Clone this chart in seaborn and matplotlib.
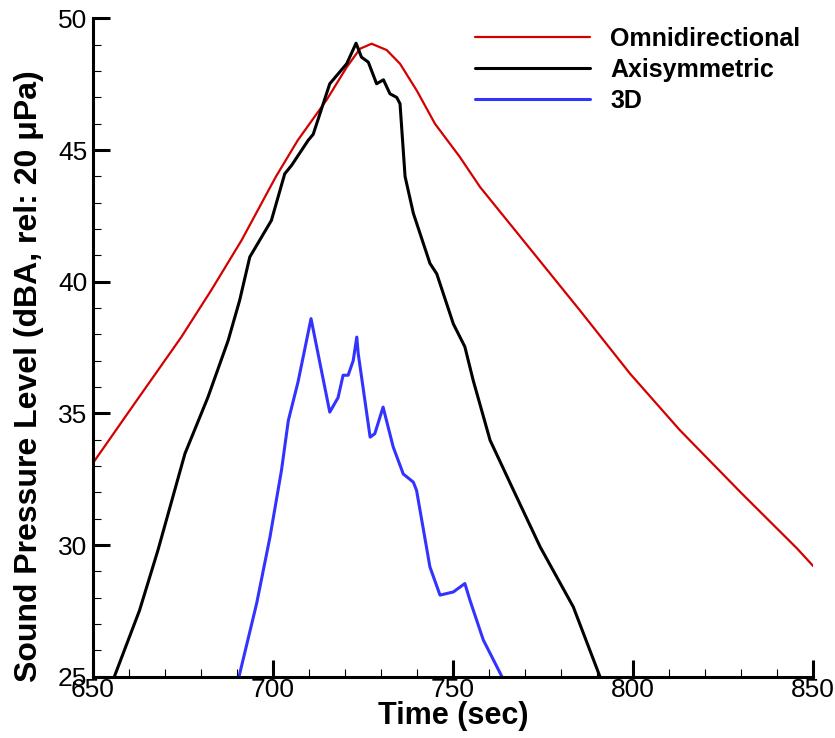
import pandas as pd
import matplotlib
matplotlib.use("Agg")
import matplotlib.pyplot as plt
import seaborn as sns
from matplotlib.ticker import MultipleLocator

# Omnidirectional
t_omni = [650, 662, 674.6, 683, 691.3, 700.8, 706.9, 714.9, 720.5, 724.2, 727.4,
          731.6, 735.3, 740, 745, 751.9, 757.5, 772.3, 785.3, 799.2, 813, 830, 845.5, 850]
spl_omni = [33.1, 35.45, 37.9, 39.7, 41.57, 43.98, 45.37, 46.9, 48.15, 48.85, 49.04,
            48.8, 48.28, 47.25, 46.0, 44.74, 43.6, 41.1, 38.9, 36.5, 34.36, 31.98, 29.87, 29.2]

# Axisymmetric
t_axi = [656, 663, 668.1, 675.6, 682, 687.6, 690.8, 693.6, 699.6, 703.3, 705.2,
         709.8, 711.2, 715.8, 720.5, 723.1, 724.6, 726.5, 728.8, 730.7, 732.5,
         734.4, 735.3, 736.7, 739, 743.6, 745.5, 750.1, 753.3, 755.6, 760.3,
         766.8, 774.2, 783.4, 790.8]
spl_axi = [25.0, 27.52, 29.8, 33.47, 35.62, 37.77, 39.3, 40.94, 42.33, 44.1, 44.42,
           45.37, 45.6, 47.52, 48.28, 49.06, 48.53, 48.34, 47.52, 47.67, 47.14,
           47.0, 46.76, 44.0, 42.6, 40.7, 40.3, 38.4, 37.53, 36.26, 33.98,
           32.08, 29.93, 27.65, 25.0]

# 3D
t_3d = [690.6, 695.5, 699.2, 702.4, 704.3, 707, 710.6, 715.8, 718.1, 719.5,
        720.9, 722.3, 723.3, 723.7, 727, 728.3, 730.6, 733.4, 736.2, 739,
        739.9, 743.6, 746.4, 750.1, 753.3, 754.7, 758.4, 763.6]
spl_3d = [25.0, 27.78, 30.3, 32.84, 34.73, 36.2, 38.6, 35.05, 35.6, 36.45,
          36.45, 37.0, 37.9, 37.27, 34.1, 34.23, 35.24, 33.73, 32.7, 32.39,
          32.07, 29.17, 28.1, 28.22, 28.54, 27.91, 26.4, 25.0]

sns.set_style("ticks")
plt.rcParams['font.family'] = ['Liberation Sans', 'DejaVu Sans']
plt.rcParams['text.color'] = 'black'
plt.rcParams['axes.labelcolor'] = 'black'
plt.rcParams['xtick.color'] = 'black'
plt.rcParams['ytick.color'] = 'black'
plt.rcParams['axes.edgecolor'] = 'black'

fig = plt.figure(figsize=(8.35, 7.38), dpi=100)
ax = fig.add_axes([0.111, 0.083, 0.863, 0.892])

sns.lineplot(x=t_omni, y=spl_omni, ax=ax, color='#d40000', linewidth=1.6,
             label='Omnidirectional', sort=False)
sns.lineplot(x=t_axi, y=spl_axi, ax=ax, color='black', linewidth=2.2,
             label='Axisymmetric', sort=False)
sns.lineplot(x=t_3d, y=spl_3d, ax=ax, color='#3333ff', linewidth=2.2,
             label='3D', sort=False)

ax.set_xlim(650, 850)
ax.set_ylim(25, 50)
ax.xaxis.set_major_locator(MultipleLocator(50))
ax.xaxis.set_minor_locator(MultipleLocator(10))
ax.yaxis.set_major_locator(MultipleLocator(5))
ax.yaxis.set_minor_locator(MultipleLocator(1))

ax.tick_params(which='major', direction='in', length=12, width=2.2,
               labelsize=19)
ax.tick_params(axis='x', which='major', pad=1)
ax.tick_params(axis='y', which='major', pad=4)
ax.tick_params(which='minor', direction='in', length=6, width=0.8)
ax.tick_params(top=False, right=False, which='both')

for s in ['top', 'right']:
    ax.spines[s].set_visible(False)
for s in ['left', 'bottom']:
    ax.spines[s].set_linewidth(2.2)

ax.set_xlabel('Time (sec)', fontsize=22, fontweight='bold', labelpad=-1)
ax.set_ylabel('Sound Pressure Level (dBA, rel: 20 μPa)', fontsize=23,
              fontweight='bold')
ax.yaxis.set_label_coords(-0.068, 0.456)

leg = ax.legend(loc='upper right', bbox_to_anchor=(1.013, 1.021), frameon=False,
                handlelength=4.6, handletextpad=0.8, labelspacing=0.27,
                prop={'weight': 'bold', 'size': 18})

fig.savefig('out.png', dpi=100)
